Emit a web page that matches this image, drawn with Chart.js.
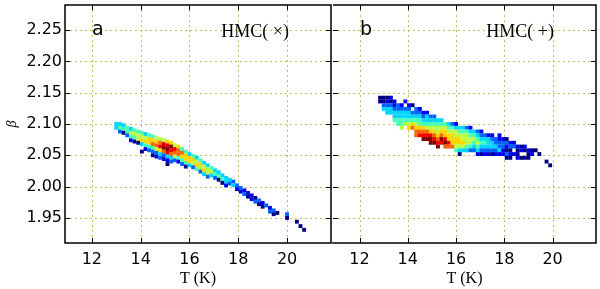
<!DOCTYPE html>
<html lang="en">
<head>
    <meta charset="UTF-8">
    <title>HMC T-beta histograms</title>
    <script src="https://cdn.jsdelivr.net/npm/chart.js"></script>
    <style>
        body { margin: 0; background: #fff; }
        #wrap { position: relative; width: 600px; height: 289px; }
        canvas { position: absolute; top: 0; }
        #panelA { left: 0; }
        #panelB { left: 329px; }
    </style>
</head>
<body>
<div id="wrap">
    <canvas id="panelA" width="335" height="289"></canvas>
    <canvas id="panelB" width="271" height="289"></canvas>
</div>
<script>
    // axis ranges and ticks
    const xRange = [10.9, 21.8];
    const yRange = [1.91, 2.29];
    const xTicks = [12, 14, 16, 18, 20];
    const yTicks = [1.95, 2.00, 2.05, 2.10, 2.15, 2.20, 2.25];

    // histogram columns: [T, beta of top cell, counts level going down one bin per char (0 = empty, 1..9,a = low..high)]
    const binBeta = 0.006;

    const colsA = [
        [13.00, 2.100, "44"],
        [13.15, 2.100, "453"],
        [13.30, 2.098, "451"],
        [13.45, 2.094, "553"],
        [13.60, 2.092, "4652"],
        [13.75, 2.090, "5651"],
        [13.90, 2.088, "5661"],
        [14.05, 2.086, "567401"],
        [14.20, 2.084, "46752"],
        [14.35, 2.082, "57753"],
        [14.50, 2.080, "578531"],
        [14.65, 2.078, "678632"],
        [14.80, 2.076, "689743"],
        [14.95, 2.074, "69a832"],
        [15.10, 2.072, "79a9421"],
        [15.25, 2.070, "7a9843"],
        [15.40, 2.066, "69863"],
        [15.55, 2.064, "78852"],
        [15.70, 2.060, "58753"],
        [15.85, 2.056, "57751"],
        [16.00, 2.052, "4774"],
        [16.15, 2.049, "5763"],
        [16.30, 2.046, "4675"],
        [16.45, 2.042, "5763"],
        [16.60, 2.038, "4674"],
        [16.75, 2.034, "4663"],
        [16.90, 2.030, "564"],
        [17.05, 2.026, "453"],
        [17.20, 2.023, "451"],
        [17.35, 2.018, "451"],
        [17.50, 2.014, "442"],
        [17.65, 2.011, "43"],
        [17.80, 2.008, "34"],
        [17.95, 2.002, "32"],
        [18.10, 1.998, "32"],
        [18.25, 1.994, "23"],
        [18.40, 1.990, "21"],
        [18.55, 1.986, "22"],
        [18.70, 1.982, "13"],
        [18.85, 1.978, "31"],
        [19.00, 1.974, "21"],
        [19.15, 1.970, "3"],
        [19.30, 1.966, "23"],
        [19.45, 1.962, "31"],
        [19.60, 1.958, "1"],
        [20.00, 1.956, "31"],
        [20.40, 1.944, "1"],
        [20.55, 1.937, "1"],
        [20.70, 1.931, "1"]
    ];

    const colsB = [
        [12.85, 2.142, "11"],
        [13.00, 2.142, "1134"],
        [13.15, 2.142, "12344"],
        [13.30, 2.142, "21344"],
        [13.45, 2.136, "223445"],
        [13.60, 2.130, "334455"],
        [13.75, 2.130, "2344556"],
        [13.90, 2.136, "2034456"],
        [14.05, 2.130, "2344567"],
        [14.20, 2.130, "1034578"],
        [14.35, 2.124, "33456788"],
        [14.50, 2.124, "23455789"],
        [14.65, 2.118, "2345789a"],
        [14.80, 2.118, "2445689a"],
        [14.95, 2.112, "345679aa"],
        [15.10, 2.112, "3456789a"],
        [15.25, 2.106, "4566789a"],
        [15.40, 2.106, "45678a9"],
        [15.55, 2.100, "56779a8"],
        [15.70, 2.100, "4567798"],
        [15.85, 2.100, "3567778"],
        [16.00, 2.100, "24667765"],
        [16.15, 2.094, "45677641"],
        [16.30, 2.094, "4566764"],
        [16.45, 2.094, "3566654"],
        [16.60, 2.094, "2456653"],
        [16.75, 2.088, "456543"],
        [16.90, 2.088, "3456542"],
        [17.05, 2.088, "2345431"],
        [17.20, 2.082, "345432"],
        [17.35, 2.082, "244432"],
        [17.50, 2.082, "234431"],
        [17.65, 2.076, "33432"],
        [17.80, 2.082, "223342"],
        [17.95, 2.076, "23322"],
        [18.10, 2.076, "132131"],
        [18.25, 2.070, "23121"],
        [18.40, 2.070, "2302"],
        [18.55, 2.064, "2112"],
        [18.70, 2.064, "1201"],
        [18.85, 2.064, "2101"],
        [19.00, 2.058, "211"],
        [19.15, 2.058, "12"],
        [19.30, 2.058, "1"],
        [19.45, 2.052, "1"],
        [19.75, 2.040, "1"],
        [19.90, 2.034, "1"]
    ];

    // jet colormap, v in [0,1]
    function jet(v) {
        const c = t => Math.round(255 * Math.max(0, Math.min(1, 1.5 - Math.abs(4 * v - t))));
        return `rgb(${c(3)},${c(2)},${c(1)})`;
    }

    function toCells(cols) {
        const pts = [], colors = [];
        cols.forEach(([t, top, s]) => {
            [...s].forEach((ch, k) => {
                const lev = parseInt(ch, 16);
                if (!lev) return;
                pts.push({ x: t, y: top - k * binBeta });
                colors.push(jet((lev - 1) / 9));
            });
        });
        return { pts, colors };
    }

    // dotted grid, inward ticks, frame and panel labels
    const framePlugin = {
        id: 'frame',
        beforeDatasetsDraw(chart) {
            const { ctx, chartArea: a, scales: { x, y } } = chart;
            ctx.save();
            ctx.strokeStyle = 'rgb(196,190,100)';
            ctx.lineWidth = 1;
            ctx.setLineDash([2, 3]);
            ctx.beginPath();
            xTicks.forEach(v => {
                const px = Math.round(x.getPixelForValue(v)) + 0.5;
                ctx.moveTo(px, a.top); ctx.lineTo(px, a.bottom);
            });
            yTicks.forEach(v => {
                const py = Math.round(y.getPixelForValue(v)) + 0.5;
                ctx.moveTo(a.left, py); ctx.lineTo(a.right, py);
            });
            ctx.stroke();
            ctx.restore();
        },
        afterDatasetsDraw(chart, args, opts) {
            const { ctx, chartArea: a, scales: { x, y } } = chart;
            ctx.save();
            ctx.strokeStyle = '#000';
            ctx.lineWidth = 1;
            ctx.beginPath();
            xTicks.forEach(v => {
                const px = Math.round(x.getPixelForValue(v)) + 0.5;
                ctx.moveTo(px, a.bottom); ctx.lineTo(px, a.bottom - 5);
                ctx.moveTo(px, a.top); ctx.lineTo(px, a.top + 5);
            });
            yTicks.forEach(v => {
                const py = Math.round(y.getPixelForValue(v)) + 0.5;
                ctx.moveTo(a.left, py); ctx.lineTo(a.left + 5, py);
                ctx.moveTo(a.right, py); ctx.lineTo(a.right - 5, py);
            });
            ctx.stroke();
            ctx.lineWidth = 1.5;
            ctx.beginPath();
            if (!opts.sharedLeft) {
                ctx.moveTo(a.left, a.bottom); ctx.lineTo(a.left, a.top);
            } else {
                ctx.moveTo(a.left, a.top);
            }
            ctx.lineTo(a.right, a.top);
            ctx.lineTo(a.right, a.bottom);
            ctx.lineTo(a.left - (opts.sharedLeft ? 1 : 0.75), a.bottom);
            ctx.stroke();

            ctx.fillStyle = '#000';
            ctx.font = '19px "DejaVu Sans"';
            ctx.textAlign = 'left';
            ctx.textBaseline = 'alphabetic';
            ctx.fillText(opts.letter, a.left + 27, a.top + 30);
            ctx.font = '18px "Liberation Serif"';
            ctx.textAlign = 'right';
            ctx.fillText(opts.tag, a.right - 42, a.top + 31.5);
            ctx.restore();
        }
    };

    function makeChart(id, cols, letter, tag, showY, padding) {
        const { pts, colors } = toCells(cols);
        return new Chart(document.getElementById(id), {
            type: 'scatter',
            data: {
                datasets: [{
                    data: pts,
                    pointStyle: 'rect',
                    pointRadius: 2.75,
                    pointBackgroundColor: colors,
                    pointBorderWidth: 0
                }]
            },
            options: {
                responsive: false,
                animation: false,
                events: [],
                layout: { padding },
                plugins: {
                    legend: { display: false },
                    tooltip: { enabled: false },
                    frame: { letter, tag, sharedLeft: !showY }
                },
                scales: {
                    x: {
                        type: 'linear',
                        min: xRange[0],
                        max: xRange[1],
                        afterBuildTicks: s => { s.ticks = xTicks.map(v => ({ value: v })); },
                        afterFit: s => { s.height = 46; s.paddingLeft = 0; s.paddingRight = 0; },
                        grid: { display: false, drawTicks: false },
                        border: { display: false },
                        ticks: {
                            color: '#000',
                            padding: 7,
                            maxRotation: 0,
                            font: { family: 'DejaVu Sans', size: 16 },
                            callback: v => String(v)
                        },
                        title: {
                            display: true,
                            text: 'T (K)',
                            color: '#000',
                            font: { family: 'Liberation Serif', size: 16 },
                            padding: { top: 0, bottom: 1 }
                        }
                    },
                    y: {
                        type: 'linear',
                        display: showY,
                        min: yRange[0],
                        max: yRange[1],
                        afterBuildTicks: s => { s.ticks = yTicks.map(v => ({ value: v })); },
                        afterFit: s => { s.width = showY ? 65 : 0; s.paddingTop = 0; s.paddingBottom = 0; },
                        grid: { display: false, drawTicks: false },
                        border: { display: false },
                        ticks: {
                            color: '#000',
                            padding: 3,
                            font: { family: 'DejaVu Sans', size: 16 },
                            callback: v => v.toFixed(2)
                        },
                        title: {
                            display: true,
                            text: 'β',
                            color: '#000',
                            font: { family: 'Liberation Serif', size: 14, style: 'italic' },
                            padding: { top: 4, bottom: 0 }
                        }
                    }
                }
            },
            plugins: [framePlugin]
        });
    }

    makeChart('panelA', colsA, 'a', 'HMC( \u00d7)', true, { top: 5, right: 4, bottom: 0, left: 0 });
    makeChart('panelB', colsB, 'b', 'HMC( +)', false, { top: 5, right: 4, bottom: 0, left: 2 });
</script>
</body>
</html>
